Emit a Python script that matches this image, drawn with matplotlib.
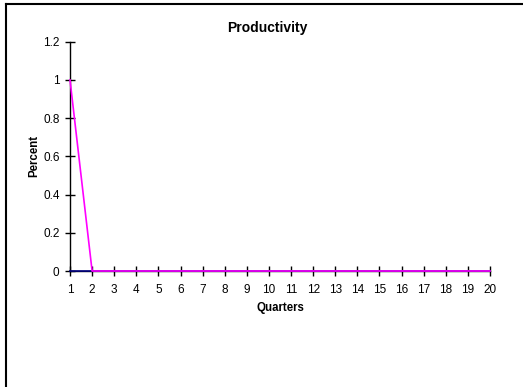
import matplotlib
matplotlib.use("Agg")
import matplotlib.pyplot as plt
from matplotlib.lines import Line2D

plt.rcParams.update({
    "font.family": ["Liberation Sans", "DejaVu Sans"],
    "font.size": 8.5,
})

# ── Data ──────────────────────────────────────────────────────────────────────
quarters = list(range(1, 21))
baseline = [0] * 20
productivity = [1] + [0] * 19
yticks = [0, 0.2, 0.4, 0.6, 0.8, 1, 1.2]
ytick_labels = ["0", "0.2", "0.4", "0.6", "0.8", "1", "1.2"]

W, H = 523, 387
fig = plt.figure(figsize=(W / 100, H / 100), dpi=100)
ax = fig.add_axes([70 / W, 1 - 271 / H, 420 / W, (271 - 41.7) / H])

ax.plot(quarters, baseline, color="#000080", lw=1.2, clip_on=False, zorder=3)
ax.plot(quarters, productivity, color="#ff00ff", lw=1.2, clip_on=False, zorder=4)

ax.set_xlim(1, 20)
ax.set_ylim(0, 1.2)
ax.set_xticks(quarters)
ax.set_yticks(yticks)
ax.set_yticklabels(ytick_labels)

for side in ("top", "right"):
    ax.spines[side].set_visible(False)
for side in ("left", "bottom"):
    ax.spines[side].set_linewidth(1.0)
ax.tick_params(direction="inout", length=7, width=1.0, labelsize=8.5, color="black")
ax.tick_params(axis="x", pad=6)
ax.tick_params(axis="y", pad=4)

# titles placed in pixel coordinates
fig.text(267 / W, 1 - 28 / H, "Productivity", fontsize=10, fontweight="bold",
         ha="center", va="center")
fig.text(280 / W, 1 - 307.5 / H, "Quarters", fontsize=8.3, fontweight="bold",
         ha="center", va="center")
fig.text(34 / W, 1 - 156 / H, "Percent", fontsize=8.3, fontweight="bold",
         ha="center", va="center", rotation=90)

# chart-area frame (top and left edges)
fig.add_artist(Line2D([6 / W, 1], [1 - 3.5 / H] * 2, color="black", lw=1.5,
                      transform=fig.transFigure))
fig.add_artist(Line2D([6 / W] * 2, [0, 1 - 3.5 / H], color="black", lw=1.5,
                      transform=fig.transFigure))

fig.savefig("out.png", dpi=100)
